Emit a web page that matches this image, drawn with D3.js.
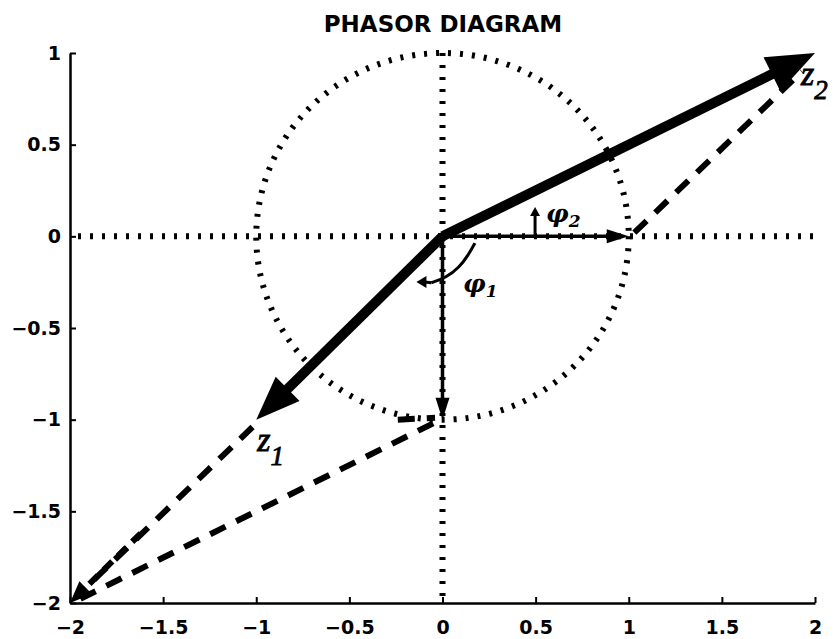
<!DOCTYPE html>
<html><head><meta charset="utf-8">
<script src="https://cdn.jsdelivr.net/npm/d3@7"></script>
<style>
html,body{margin:0;padding:0;background:#fff;}
svg{display:block;}
</style></head>
<body>
<svg id="chart" width="837" height="639"></svg>
<script>
// ---- data ----
const title = "PHASOR DIAGRAM";
const xDomain = [-2, 2];
const yDomain = [-2, 1];
const xTicks = [-2, -1.5, -1, -0.5, 0, 0.5, 1, 1.5, 2];
const xTickLabels = ["\u22122", "\u22121.5", "\u22121", "\u22120.5", "0", "0.5", "1", "1.5", "2"];
const yTicks = [-2, -1.5, -1, -0.5, 0, 0.5, 1];
const yTickLabels = ["\u22122", "\u22121.5", "\u22121", "\u22120.5", "0", "0.5", "1"];
// phasors (complex numbers [re, im])
const z1 = [-1, -1];
const z2 = [2, 1];
const unitRe = [1, 0];
const unitIm = [0, -1];
// dashed construction lines [from, to]
const dashedLines = [
  [[1.03, 0.02], [1.93, 0.9]],
  [[-1.02, -1.04], [-1.97, -1.97]],
  [[-0.05, -1.02], [-1.97, -1.99]],
  [[-0.24, -1.0], [-0.04, -0.99]]
];
const dashedArrow = [[-1.62, -1.62], [-2, -2]];
// handwritten angle annotations
const phi2Arrow = [[0.497, 0.0], [0.497, 0.16]];
const phi1Arc = [[0.174, -0.037], [0.14, -0.1], [0.09, -0.17], [0.02, -0.225], [-0.06, -0.253]];
const phi1Tip = [-0.14, -0.249];

// ---- scales ----
const svg = d3.select("#chart");
const x = d3.scaleLinear().domain(xDomain).range([70, 815]);
const y = d3.scaleLinear().domain(yDomain).range([603, 53]);
const P = d => [x(d[0]), y(d[1])];

// title
svg.append("text").attr("x", 443).attr("y", 32).attr("text-anchor", "middle")
  .attr("font-family", "DejaVu Sans").attr("font-weight", "bold").attr("font-size", 23)
  .text(title);

// dotted reference lines and unit circle
const dotStyle = g => g.attr("fill", "none").attr("stroke", "#000")
  .attr("stroke-width", 6).attr("stroke-dasharray", "3 9");
svg.append("line").attr("x1", x(-2) + 8).attr("x2", x(2)).attr("y1", y(0)).attr("y2", y(0)).call(dotStyle);
svg.append("line").attr("x1", x(0)).attr("x2", x(0)).attr("y1", y(1)).attr("y2", y(-2)).call(dotStyle);
svg.append("ellipse").attr("cx", x(0)).attr("cy", y(0))
  .attr("rx", x(1) - x(0)).attr("ry", y(0) - y(1)).call(dotStyle);

// axes
const xAxis = d3.axisBottom(x).tickValues(xTicks).tickFormat((d, i) => xTickLabels[i])
  .tickSizeInner(-6).tickSizeOuter(0).tickPadding(18);
const yAxis = d3.axisLeft(y).tickValues(yTicks).tickFormat((d, i) => yTickLabels[i])
  .tickSizeInner(-6).tickSizeOuter(0).tickPadding(9);
const gx = svg.append("g").attr("transform", `translate(0,${y(-2)})`).call(xAxis);
const gy = svg.append("g").attr("transform", `translate(${x(-2)},0)`).call(yAxis);
[gx, gy].forEach(g => {
  g.select(".domain").attr("stroke", "#000").attr("stroke-width", 2.5);
  g.selectAll(".tick line").attr("stroke", "#000").attr("stroke-width", 2);
  g.selectAll(".tick text").attr("font-family", "DejaVu Sans").attr("font-weight", "bold")
    .attr("font-size", 19).attr("fill", "#000");
});

// arrow helper (pixel geometry from scaled endpoints)
function arrow(from, to, lw, headLen, headHalf, dash) {
  const a = P(from), b = P(to);
  const dx = b[0] - a[0], dy = b[1] - a[1], L = Math.hypot(dx, dy);
  const ux = dx / L, uy = dy / L, nx = -uy, ny = ux;
  const bx = b[0] - ux * headLen, by = b[1] - uy * headLen;
  const ln = svg.append("line").attr("x1", a[0]).attr("y1", a[1])
    .attr("x2", bx + ux * 2).attr("y2", by + uy * 2)
    .attr("stroke", "#000").attr("stroke-width", lw).attr("stroke-linecap", "butt");
  if (dash) ln.attr("stroke-dasharray", dash);
  svg.append("path").attr("d",
    `M${b[0]},${b[1]}L${bx + nx * headHalf},${by + ny * headHalf}L${bx - nx * headHalf},${by - ny * headHalf}Z`)
    .attr("fill", "#000");
}

// dashed construction lines
dashedLines.forEach(l => {
  svg.append("line").attr("x1", x(l[0][0])).attr("y1", y(l[0][1]))
    .attr("x2", x(l[1][0])).attr("y2", y(l[1][1]))
    .attr("stroke", "#000").attr("stroke-width", 6).attr("stroke-dasharray", "17 12");
});
arrow(dashedArrow[0], dashedArrow[1], 6, 22, 9, "12 8");

// thin unit arrows
arrow([0, 0], unitRe, 3.5, 22, 7);
arrow([0, 0], unitIm, 3.5, 22, 7);

// thick phasors
arrow([0, 0], z2, 10, 48, 19);
arrow([0, 0], z1, 10, 44, 17);

// labels z1, z2
function zLabel(px, py, sub) {
  const t = svg.append("text").attr("x", px).attr("y", py)
    .attr("font-family", "Liberation Serif").attr("font-style", "italic").attr("font-size", 34)
    .attr("stroke", "#000").attr("stroke-width", 0.8);
  t.append("tspan").text("z");
  t.append("tspan").attr("dy", 14).attr("font-size", 27).text(sub);
}
zLabel(x(-1) + 1, y(-1) + 31, "1");
zLabel(x(2) - 14, y(1) + 32, "2");

// phi annotations
svg.append("line").attr("x1", x(phi2Arrow[0][0])).attr("y1", y(phi2Arrow[0][1]))
  .attr("x2", x(phi2Arrow[1][0])).attr("y2", y(phi2Arrow[1][1]) + 6)
  .attr("stroke", "#000").attr("stroke-width", 3);
{
  const t = P(phi2Arrow[1]);
  svg.append("path").attr("d", `M${t[0]},${t[1]}L${t[0] - 5},${t[1] + 9}L${t[0] + 5},${t[1] + 9}Z`).attr("fill", "#000");
}
svg.append("path").attr("d", d3.line().curve(d3.curveBasis)(phi1Arc.map(P)))
  .attr("fill", "none").attr("stroke", "#000").attr("stroke-width", 3);
{
  const t = P(phi1Tip);
  svg.append("path").attr("d", `M${t[0]},${t[1]}L${t[0] + 10},${t[1] - 6}L${t[0] + 10},${t[1] + 6}Z`).attr("fill", "#000");
  svg.append("line").attr("x1", t[0] + 8).attr("y1", t[1]).attr("x2", P(phi1Arc[4])[0]).attr("y2", P(phi1Arc[4])[1])
    .attr("stroke", "#000").attr("stroke-width", 3);
}
function phiLabel(px, py, sub) {
  const t = svg.append("text").attr("x", px).attr("y", py)
    .attr("font-family", "DejaVu Serif").attr("font-style", "italic").attr("font-weight", "bold").attr("font-size", 25);
  t.append("tspan").text("\u03c6");
  t.append("tspan").attr("dy", 5).attr("font-size", 17).text(sub);
}
phiLabel(546, 222, "2");
phiLabel(463, 292, "1");
</script>
</body></html>
